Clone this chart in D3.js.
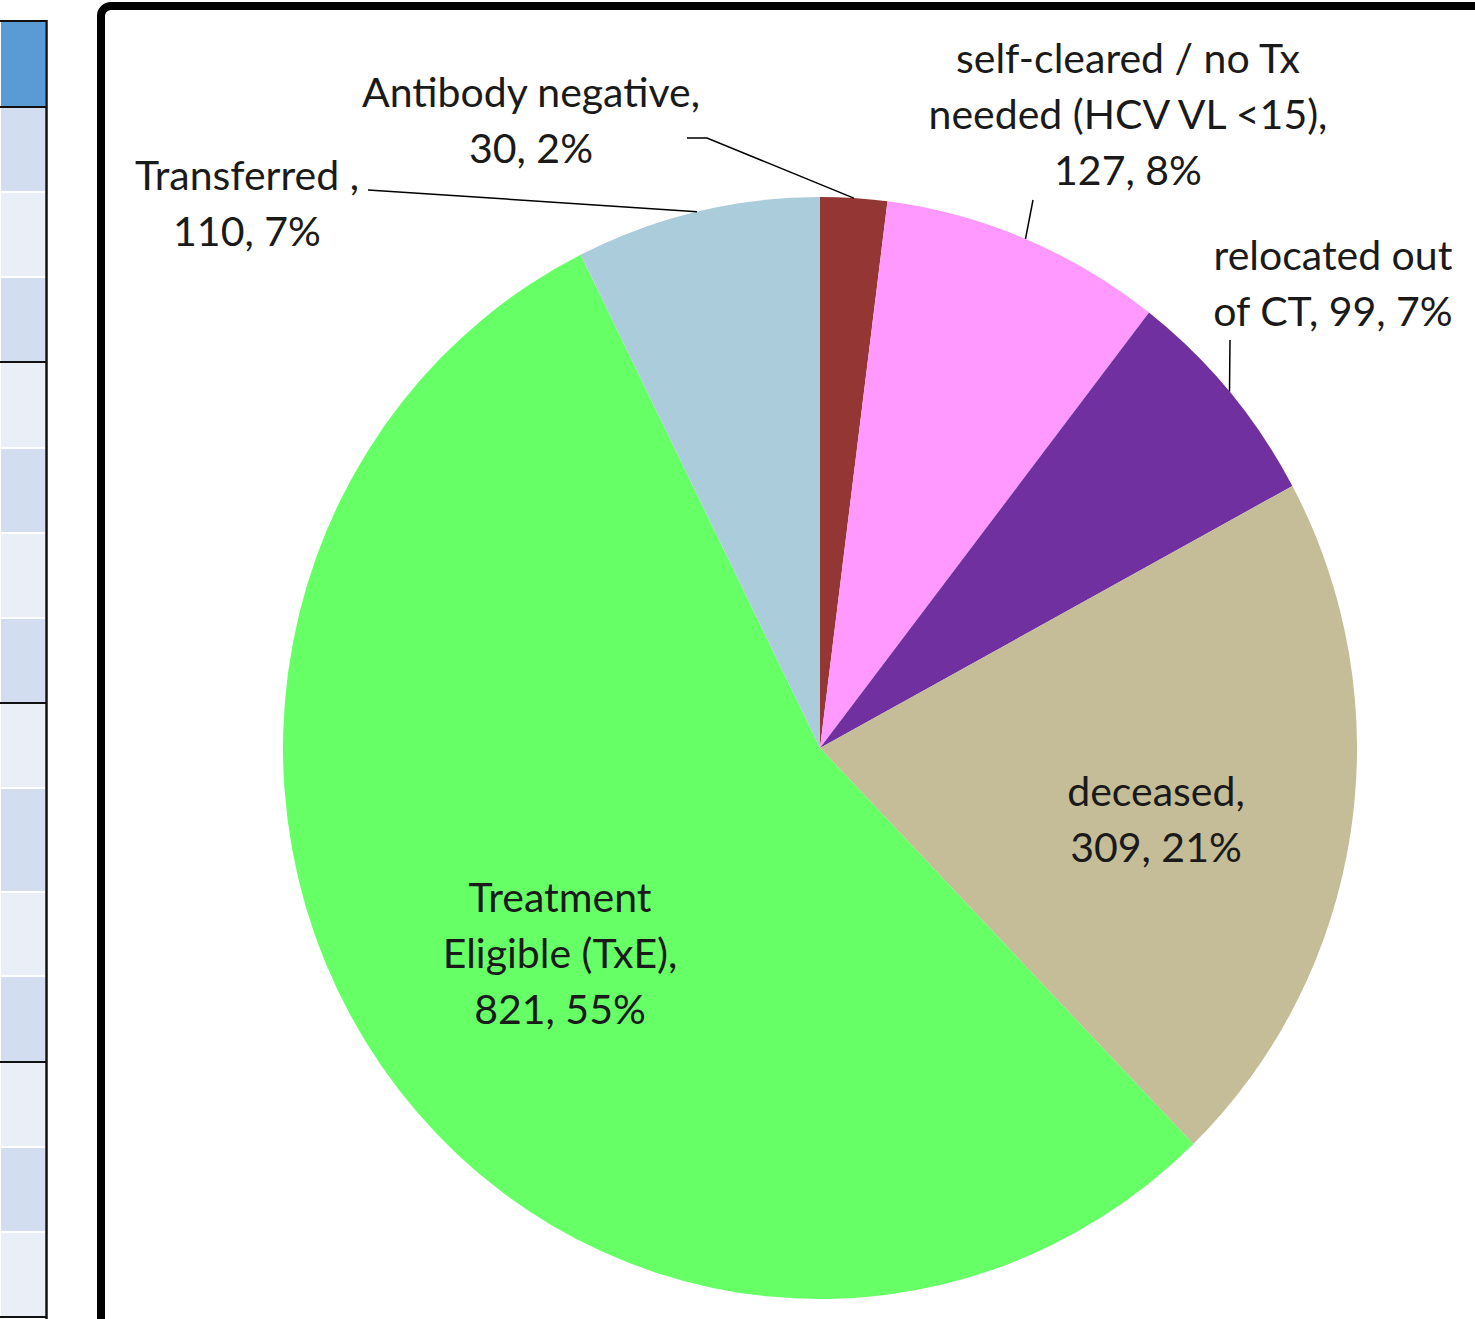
<!DOCTYPE html>
<meta charset="utf-8">
<title>HCV cohort outcomes</title>
<style>
body { margin: 0; background: #ffffff; }
.lbl {
  font-family: Lato, "Open Sans", sans-serif;
  font-size: 41px;
  fill: #1a1a1a;
}
.leader {
  fill: none;
  stroke: #000000;
  stroke-width: 1.5;
}
</style>
<body>
<script src="https://d3js.org/d3.v7.min.js"></script>
<script>

// slices, clockwise from 12 o'clock
var names = ["Antibody negative", "self-cleared / no Tx needed (HCV VL <15)", "relocated out of CT",
             "deceased", "Treatment Eligible (TxE)", "Transferred "];
var counts = [30, 127, 99, 309, 821, 110];
var colors = ["#943634", "#FF99FF", "#7030A0", "#C4BD97", "#66FF66", "#AACCDB"];

// how each label is broken into lines (last line gets "n, p%")
var labelLines = [
  ["Antibody negative,"],
  ["self-cleared / no Tx", "needed (HCV VL <15),"],
  ["relocated out"],
  ["deceased,"],
  ["Treatment", "Eligible (TxE),"],
  ["Transferred ,"]
];

var width = 1475;
var height = 1319;

var svg = d3.select("body").append("svg")
    .attr("width", width)
    .attr("height", height);

// bit of the neighbouring table on the far left
var rowEdges = [21, 107, 192, 277, 362, 448, 533, 618, 703, 788, 892, 976, 1062, 1147, 1232, 1317];
var groupEdges = [107, 362, 703, 1062, 1317];
var tbl = svg.append("g");
for (var i = 0; i < rowEdges.length - 1; ++i) {
  tbl.append("rect")
    .attr("x", 0).attr("y", rowEdges[i])
    .attr("width", 46).attr("height", rowEdges[i + 1] - rowEdges[i])
    .attr("fill", i == 0 ? "#5B9BD5" : (i % 2 ? "#D2DEEF" : "#EAEFF7"))
    .attr("stroke", "#ffffff").attr("stroke-width", 2);
}
groupEdges.concat([21]).forEach(function(y) {
  tbl.append("line").attr("x1", 0).attr("x2", 47).attr("y1", y).attr("y2", y)
    .attr("stroke", "#111").attr("stroke-width", 2);
});
tbl.append("line").attr("x1", 46.5).attr("x2", 46.5).attr("y1", 20).attr("y2", 1319)
  .attr("stroke", "#111").attr("stroke-width", 2.5);

// chart frame
svg.append("rect")
    .attr("x", 101).attr("y", 6)
    .attr("width", 1500).attr("height", 1500)
    .attr("rx", 10)
    .attr("fill", "#ffffff")
    .attr("stroke", "#000000")
    .attr("stroke-width", 8);

var cx = 820, cy = 748, r = 537, sy = 551 / 537;

var pie = d3.pie().sort(null).value(function(d) { return d; });
var arcs = pie(counts);
var arc = d3.arc().innerRadius(0).outerRadius(r);
var total = d3.sum(counts);

svg.append("g")
    .attr("transform", "translate(" + cx + "," + cy + ") scale(1," + sy + ")")
  .selectAll("path")
  .data(arcs)
  .enter().append("path")
    .attr("d", arc)
    .attr("fill", function(d, i) { return colors[i]; });

// point on the rim at the middle of a slice
function rim(d) {
  var a = (d.startAngle + d.endAngle) / 2;
  return [cx + Math.sin(a) * r, cy - Math.cos(a) * r * sy];
}

// label placement: text centre x, first baseline, and leader elbow points
var labelPos = [
  {x: 531, y: 107, leader: [[687, 138], [707, 138]]},
  {x: 1128, y: 73, leader: [[1033, 200]]},
  {x: 1333, y: 270, leader: [[1230, 340]]},
  {x: 1156, y: 806, leader: null},
  {x: 560, y: 912, leader: null},
  {x: 247, y: 190, leader: [[368, 190]]}
];
var lineH = 56;

arcs.forEach(function(d, i) {
  var p = labelPos[i];
  var pct = Math.round(d.value / total * 100);
  var lines = labelLines[i].slice();
  if (i == 2) lines.push("of CT, " + d.value + ", " + pct + "%");
  else lines.push(d.value + ", " + pct + "%");

  var t = svg.append("text")
      .attr("class", "lbl")
      .attr("text-anchor", "middle");
  lines.forEach(function(s, k) {
    t.append("tspan").attr("x", p.x).attr("y", p.y + k * lineH).text(s);
  });

  if (p.leader) {
    var pts = p.leader.concat([rim(d)]);
    svg.append("path")
      .attr("class", "leader")
      .attr("d", d3.line()(pts));
  }
});

</script>
